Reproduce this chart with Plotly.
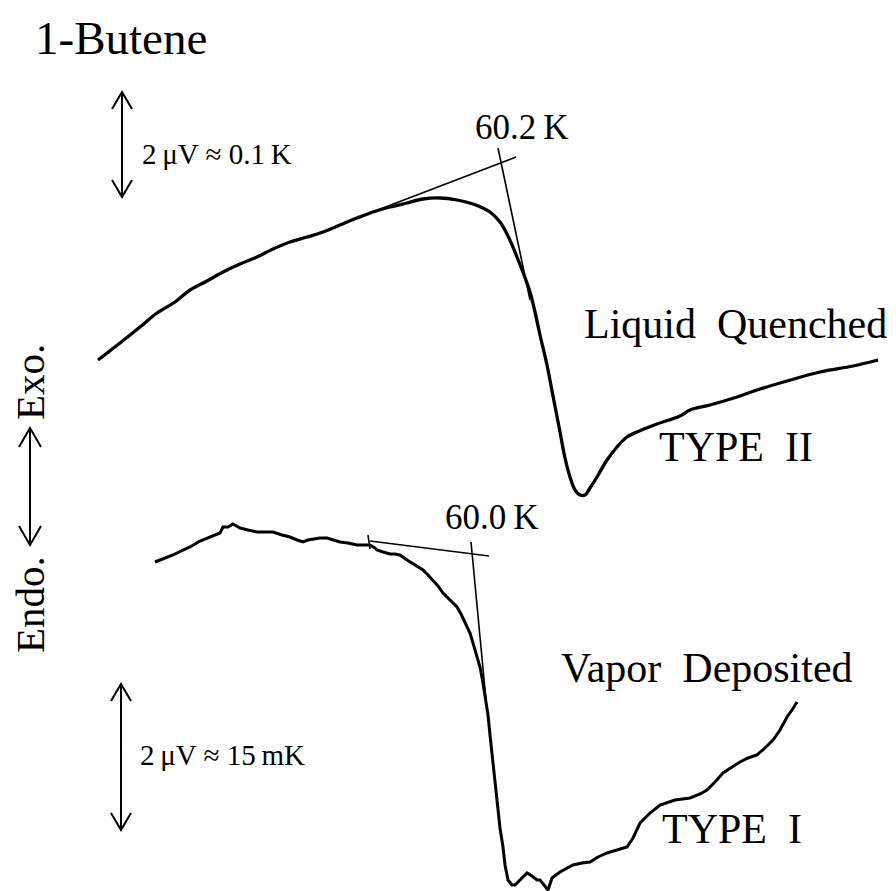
import plotly.graph_objects as go

# ---- data (picture units: x = scan position, y = signal, downward positive) ----
lq_x = [98, 120, 140, 157, 175, 190, 207, 223, 240, 257, 273, 290, 307, 323, 340, 357, 373, 390, 407,
        423, 440, 457, 473, 490, 500, 508, 517, 524, 530, 535, 540, 547, 553, 560, 565, 570, 575, 580,
        585, 590, 597, 607, 617, 627, 637, 657, 680, 690, 710, 737, 757, 787, 820, 853, 878]
lq_y = [360, 343, 327, 313, 302, 290, 281, 272, 264, 257, 249, 242, 237, 232, 225, 218, 212, 207, 203,
        199, 198, 200, 204, 212, 222, 236, 257, 275, 292, 312, 335, 365, 396, 432, 458, 477, 490, 495,
        495, 488, 477, 460, 447, 437, 432, 424, 416, 410, 405, 397, 390, 381, 372, 366, 360]

vd_x = [155, 165, 173, 183, 190, 200, 207, 215, 220, 223, 228, 233, 240, 248, 257, 265, 273, 282, 290,
        297, 303, 308, 313, 320, 327, 333, 340, 348, 357, 363, 370, 375, 377, 383, 390, 395, 400, 407,
        415, 423, 428, 433, 438, 443, 450, 457, 461, 465, 470, 473, 476, 480, 483, 486, 488, 490, 492,
        494, 496, 498, 500, 503, 505, 508, 512, 515, 520, 527, 532, 537, 540, 545, 548, 552, 560, 573,
        582, 590, 598, 607, 617, 627, 633, 640, 650, 660, 675, 690, 700, 707, 715, 723, 732, 740, 748,
        757, 765, 773, 780, 787, 792, 797]
vd_y = [562, 558, 555, 550, 547, 541, 538, 535, 533, 527, 527, 524, 528, 530, 532, 532, 532, 535, 537,
        540, 542, 540, 539, 538, 538, 540, 542, 543, 545, 545, 545, 548, 550, 552, 554, 554, 555, 560,
        565, 570, 575, 580, 586, 593, 600, 607, 614, 623, 633, 643, 653, 667, 683, 700, 715, 735, 755,
        775, 795, 810, 828, 847, 865, 880, 885, 885, 880, 873, 876, 880, 880, 886, 890, 878, 872, 865,
        863, 862, 857, 853, 850, 847, 838, 823, 813, 805, 800, 798, 794, 790, 782, 773, 767, 762, 758,
        755, 748, 740, 730, 717, 710, 702]

# onset constructions (tangent lines)
lq_base_x = [362, 516]
lq_base_y = [216, 157]
lq_slope_x = [498, 530]
lq_slope_y = [148, 300]
vd_base_x = [370, 489]
vd_base_y = [541, 556]
vd_slope_x = [471, 486]
vd_slope_y = [542, 700]
vd_tick_x = [368, 370]
vd_tick_y = [535, 549]

# text labels
title_text = "1-Butene"
onset_labels = ["60.2\u2009K", "60.0\u2009K"]
curve_names = ["Liquid\u00a0 Quenched", "Vapor\u00a0 Deposited"]
type_labels = ["TYPE\u00a0 II", "TYPE\u00a0 I"]
scale_labels = ["2\u2009\u03bcV \u2248 0.1\u2009K", "2\u2009\u03bcV \u2248 15\u2009mK"]

# scale bars (x position, top, bottom)
scale_bar_x = [122, 121]
scale_bar_top = [92, 684]
scale_bar_bot = [197, 830]
# endo/exo arrow
ee_x = 30
ee_top = 428
ee_bot = 545

SERIF = "Liberation Serif, Times New Roman, serif"

fig = go.Figure()
fig.add_trace(go.Scatter(x=lq_x, y=lq_y, mode="lines",
                         line=dict(color="black", width=3.3, shape="spline", smoothing=1.0),
                         hoverinfo="skip", showlegend=False))
fig.add_trace(go.Scatter(x=vd_x, y=vd_y, mode="lines", line=dict(color="black", width=3),
                         hoverinfo="skip", showlegend=False))
for xs, ys in [(lq_base_x, lq_base_y), (lq_slope_x, lq_slope_y), (vd_base_x, vd_base_y),
               (vd_slope_x, vd_slope_y), (vd_tick_x, vd_tick_y)]:
    fig.add_trace(go.Scatter(x=xs, y=ys, mode="lines", line=dict(color="black", width=1.6),
                             hoverinfo="skip", showlegend=False))

shapes = []
def double_arrow(x, top, bot, w=10, h=17, lw=2):
    path = (f"M {x} {top} L {x} {bot} "
            f"M {x - w} {top + h} L {x} {top} L {x + w} {top + h} "
            f"M {x - w} {bot - h} L {x} {bot} L {x + w} {bot - h}")
    shapes.append(dict(type="path", path=path, xref="x", yref="y", line=dict(color="black", width=lw)))

for sx, st, sb in zip(scale_bar_x, scale_bar_top, scale_bar_bot):
    double_arrow(sx, st, sb)
double_arrow(ee_x, ee_top, ee_bot, w=11, h=19)

ann = []
def label(text, x, y, size, xanchor="left", angle=0):
    ann.append(dict(text=text, x=x, y=y, xref="x", yref="y", showarrow=False, xanchor=xanchor,
                    yanchor="middle", textangle=angle, font=dict(family=SERIF, size=size, color="black")))

label(title_text, 33, 38, 47)
label(onset_labels[0], 522, 127, 35, xanchor="center")
label(onset_labels[1], 492, 517, 35, xanchor="center")
label(curve_names[0], 582, 324, 42)
label(type_labels[0], 657, 447, 42)
label(curve_names[1], 559, 668, 42)
label(type_labels[1], 660, 829, 42)
label(scale_labels[0], 140, 154, 29)
label(scale_labels[1], 138, 755, 29)
label("Exo.", ee_x, 382, 41, xanchor="center", angle=-90)
label("Endo.", ee_x, 605, 41, xanchor="center", angle=-90)

fig.update_layout(width=896, height=891, margin=dict(l=0, r=0, t=0, b=0),
                  paper_bgcolor="white", plot_bgcolor="white",
                  xaxis=dict(range=[0, 896], visible=False, fixedrange=True),
                  yaxis=dict(range=[891, 0], visible=False, fixedrange=True),
                  shapes=shapes, annotations=ann)
fig.write_html("out.html", config={"displayModeBar": False, "staticPlot": True},
               post_script="document.body.style.margin='0';")
